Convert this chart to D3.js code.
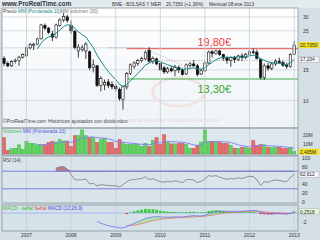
<!DOCTYPE html>
<html><head><meta charset="utf-8">
<script src="https://cdn.jsdelivr.net/npm/d3@7"></script>
<style>body{margin:0;background:#d4dfe6;}svg{display:block;font-family:"Liberation Sans",Arial,sans-serif;}</style>
</head><body><svg id="c" width="320" height="240"></svg>
<script>
// ---- data ----
const firstMonth = new Date(2006, 6, 1);
const opens  = [17.4,16.3,15.8,16.7,16.9,17.7,18.0,20.0,20.6,21.0, 22.5,26.8,25.9,24.0,23.0,26.8,28.8,30.0,26.9,24.8, 19.2,19.5,19.2,19.0,15.5,15.8,12.2,12.3,12.8,12.4, 12.1,11.6,10.2,12.0,14.3,15.7,16.3,16.9,17.3,19.4, 16.8,17.3,16.3,15.4,14.6,15.2,14.8,15.5,15.0,14.2, 15.9,16.2,15.8,14.2,14.8,16.4,19.0,18.6,19.2,18.3, 17.5,17.0,17.6,17.2,18.0,17.6,18.4,19.0,18.9,17.2, 13.6,15.8,15.3,16.2,16.8,16.5,15.9,15.7,18.4];
const highs  = [17.9,16.8,17.0,17.4,18.0,18.6,20.4,21.3,21.4,22.8, 27.4,27.5,26.3,25.0,27.5,29.5,31.6,30.8,28.6,25.3, 21.0,20.8,21.6,19.3,17.2,16.0,13.8,13.2,13.3,12.9, 12.5,11.9,12.2,14.6,16.3,16.8,17.3,17.8,19.3,20.2, 17.9,17.6,16.6,15.8,15.6,15.8,16.0,15.9,15.3,16.3, 16.6,17.0,16.2,15.2,16.7,19.3,19.4,19.5,19.5,18.5, 18.0,17.8,18.0,18.3,18.6,18.7,19.6,19.8,19.5,17.5, 16.3,16.4,16.6,17.2,17.6,16.9,16.5,18.6,21.9];
const lows   = [15.8,15.5,15.6,16.3,15.8,17.4,17.8,19.6,19.4,20.8, 22.3,25.2,24.0,21.8,22.6,26.3,28.0,27.8,24.0,19.6, 17.6,19.0,17.3,15.0,14.5,12.0,11.3,11.5,11.8,11.6, 11.3,10.0,8.9,11.6,14.0,15.2,15.8,16.5,17.0,16.5, 16.2,15.9,14.8,14.2,14.3,14.5,13.8,14.4,13.9,14.0, 15.5,15.6,13.8,14.0,14.6,16.2,17.6,18.3,18.0,16.9, 16.2,15.6,16.4,16.8,16.8,17.2,18.0,18.4,17.2,13.2, 13.1,14.8,14.9,15.8,16.2,15.6,15.2,15.4,18.2];
const closes = [16.3,15.8,16.7,17.0,17.7,18.3,20.0,20.9,21.0,22.5, 27.0,25.9,24.5,23.0,27.0,28.8,30.2,28.6,25.0,20.1, 20.2,20.0,21.0,15.4,16.0,12.2,13.4,12.7,12.2,12.0, 11.7,10.3,12.0,14.3,16.0,16.4,16.9,17.4,18.9,16.8, 17.4,16.2,15.0,14.6,15.2,14.8,15.5,15.0,14.1,16.0, 16.2,15.8,14.1,14.8,16.4,18.9,18.6,19.2,18.3,17.5, 17.0,17.6,17.2,18.0,17.6,18.4,19.0,18.9,17.4,13.6, 15.8,15.3,16.2,16.8,16.5,15.9,15.7,18.3,20.735];
const volumes = [17,4,5.5,6,9.5,5,13,11,11,9.5, 10,9.5,12,13,12.5,15,13.5,13.5,8,19, 19,25,19,17,17,12,15,16,12,12, 6,15,11,10,10,10,10,8,11,8, 14,17,10,20,12,10.5,10.5,11,11,10, 6,6,9,12.5,25,13,13,12,12,11, 11,9,6,5.5,7,6.5,6,14,9,10, 9.5,7,6.5,7,7,6,5.5,7,2.405];
const resistance = 19.80, support = 13.30;
const priceTicks = [30,25,15,10];
const volTicks = [10,20];
const rsiTicks = [100,80,40,20,0];
const macdTicks = [-2];
const yearTicks = [2007,2008,2009,2010,2011,2012,2013];
const trendPts = [[28,20.0],[38,20.0]];
const trendPts2 = [[39,19.3],[48,15.9]];
const trendPts3 = [[41,16.9],[78,17.0]];

// ---- indicators ----
function wma(a,n){return a.map((v,i)=>i<n-1?null:d3.sum(d3.range(n),k=>a[i-k]*(n-k))/(n*(n+1)/2));}
function rsiCalc(c,n){const o=Array(c.length).fill(null);let g=0,l=0;for(let i=1;i<=n;i++){const d=c[i]-c[i-1];if(d>0)g+=d;else l-=d;}g/=n;l/=n;o[n]=100-100/(1+g/l);for(let i=n+1;i<c.length;i++){const d=c[i]-c[i-1];g=(g*(n-1)+Math.max(d,0))/n;l=(l*(n-1)+Math.max(-d,0))/n;o[i]=100-100/(1+g/l);}return o;}
function ema(a,n){const o=Array(a.length).fill(null);let s=a.findIndex(v=>v!=null);if(s<0)return o;const st=s+n-1;if(st>=a.length)return o;o[st]=d3.mean(a.slice(s,st+1));const k=2/(n+1);for(let i=st+1;i<a.length;i++)o[i]=a[i]*k+o[i-1]*(1-k);return o;}
const ma = wma(closes,10);
const vma = wma(volumes,10);
const rsi = rsiCalc(closes,14);
const e12=ema(closes,12), e26=ema(closes,26);
const macd = closes.map((c,i)=>e26[i]==null?null:e12[i]-e26[i]);
const sig = ema(macd,9);
const hist = macd.map((m,i)=>sig[i]==null?null:m-sig[i]);

const dates = d3.range(closes.length).map(i=>d3.timeMonth.offset(firstMonth,i));
const fmt = v=>v.toFixed(3).replace('.',',');

// ---- layout ----
const svg = d3.select('#c');
const L=2,R=298;
const P={main:[8,128],vol:[128,155],rsi:[156,203],macd:[205,231]};
const x = d3.scaleTime().domain([dates[0],dates[dates.length-1]]).range([4,294.2]);
const y = d3.scaleLog().domain([7.0,33.7]).range([128,8]);
const yv = d3.scaleLinear().domain([0,27]).range([154,128]);
const yr = d3.scaleLinear().domain([0,100]).range([202,158]);
const mMin = d3.min(macd);
const ym = d3.scaleLinear().domain([mMin,0]).range([228,213]);
const yearX = d => x(new Date(d,0,1));

// backgrounds
svg.append('rect').attr('x',0).attr('y',0).attr('width',320).attr('height',240).attr('fill','#d4dfe6');
svg.append('rect').attr('x',0).attr('y',0).attr('width',320).attr('height',8).attr('fill','#e4ebef');
const grad = svg.append('defs').append('linearGradient').attr('id','mg').attr('x1',0).attr('x2',0).attr('y1',0).attr('y2',1);
grad.append('stop').attr('offset','0').attr('stop-color','#ffffff');
grad.append('stop').attr('offset','1').attr('stop-color','#eef3f6');
svg.append('rect').attr('x',L).attr('y',P.main[0]).attr('width',R-L).attr('height',P.main[1]-P.main[0]).attr('fill','url(#mg)');
svg.append('rect').attr('x',L).attr('y',P.vol[0]).attr('width',R-L).attr('height',P.vol[1]-P.vol[0]).attr('fill','#dce8ee');
svg.append('rect').attr('x',L).attr('y',P.rsi[0]).attr('width',R-L).attr('height',P.rsi[1]-P.rsi[0]).attr('fill','#d9e5eb');
svg.append('rect').attr('x',L).attr('y',P.macd[0]).attr('width',R-L).attr('height',P.macd[1]-P.macd[0]).attr('fill','#d6e2e9');
const defs = svg.select('defs');
Object.entries(P).forEach(([k,v])=>{defs.append('clipPath').attr('id','cp'+k).append('rect').attr('x',L).attr('y',v[0]).attr('width',R-L).attr('height',v[1]-v[0]);});

// grids
const gMain = svg.append('g').attr('clip-path','url(#cpmain)');
gMain.selectAll('line.h').data([30,25,20,15,10]).join('line').attr('x1',L).attr('x2',R).attr('y1',d=>y(d)).attr('y2',d=>y(d)).attr('stroke','#cfd7de').attr('stroke-width',0.8);
Object.values(P).forEach(v=>{
  svg.append('g').selectAll('line').data(yearTicks).join('line').attr('x1',yearX).attr('x2',yearX).attr('y1',v[0]).attr('y2',v[1]).attr('stroke','#c3ced7').attr('stroke-width',0.8);
});

// watermark
gMain.append('ellipse').attr('cx',x(dates[47])).attr('cy',y(11.2)).attr('rx',26).attr('ry',14).attr('fill','none').attr('stroke','#f1e4e4').attr('stroke-width',3);
gMain.append('text').attr('x',x(dates[33])).attr('y',y(7.55)).attr('font-size',6).attr('fill','#ead2d2').attr('letter-spacing',1).text('www.secretosdebolsa.com');
gMain.append('text').attr('x',L+1).attr('y',y(7.45)).attr('font-size',5).attr('fill','#444').text('©ProRealTime.com Históricos ajustados con dividendos');

// trend lines
const tl = d3.line().x(d=>x(dates[d[0]])).y(d=>y(d[1]));
[trendPts,trendPts2,trendPts3].forEach(t=>gMain.append('path').attr('d',tl(t)).attr('fill','none').attr('stroke','#888').attr('stroke-width',0.7).attr('stroke-dasharray','1,1.5'));
gMain.append('line').attr('x1',x(dates[33])).attr('x2',R).attr('y1',y(resistance)).attr('y2',y(resistance)).attr('stroke','#ec6f6f').attr('stroke-width',1.2);
gMain.append('line').attr('x1',x(dates[33])).attr('x2',R).attr('y1',y(support)).attr('y2',y(support)).attr('stroke','#3eaa3e').attr('stroke-width',1);
gMain.append('text').attr('x',x(dates[52])).attr('y',y(resistance)-2.5).attr('font-size',11).attr('fill','#f03c3c').text(resistance.toFixed(2).replace('.',',')+'€');
gMain.append('text').attr('x',x(dates[52])).attr('y',y(support)+14.5).attr('font-size',11).attr('fill','#2fa52f').text(support.toFixed(2).replace('.',',')+'€');

// candles
const cw=2.4;
const cg = gMain.append('g');
cg.selectAll('line').data(d3.range(closes.length)).join('line').attr('x1',i=>x(dates[i])).attr('x2',i=>x(dates[i])).attr('y1',i=>y(highs[i])).attr('y2',i=>y(lows[i])).attr('stroke','#111').attr('stroke-width',0.8);
cg.selectAll('rect').data(d3.range(closes.length)).join('rect').attr('x',i=>x(dates[i])-cw/2).attr('width',cw)
  .attr('y',i=>y(Math.max(opens[i],closes[i]))).attr('height',i=>Math.max(0.8,Math.abs(y(opens[i])-y(closes[i]))))
  .attr('fill',i=>closes[i]>=opens[i]?'#fff':'#111').attr('stroke','#111').attr('stroke-width',0.6);
// MA
const maLine = d3.line().defined(d=>d!=null).x((d,i)=>x(dates[i])).y(d=>y(d));
gMain.append('path').attr('d',maLine(ma)).attr('fill','none').attr('stroke','#13878a').attr('stroke-width',1);

// volume
const gv = svg.append('g').attr('clip-path','url(#cpvol)');
gv.selectAll('rect').data(d3.range(volumes.length)).join('rect').attr('x',i=>x(dates[i])-1.6).attr('width',3.2)
  .attr('y',i=>yv(volumes[i])).attr('height',i=>yv(0)-yv(volumes[i]))
  .attr('fill',i=>closes[i]>=opens[i]?'#5fd65f':'#e86a6a').attr('stroke',i=>closes[i]>=opens[i]?'#3aa83a':'#c04848').attr('stroke-width',0.4);
gv.append('path').attr('d',d3.line().defined(d=>d!=null).x((d,i)=>x(dates[i])).y(d=>yv(d))(vma)).attr('fill','none').attr('stroke','#8585f0').attr('stroke-width',1);

// RSI
const gr = svg.append('g').attr('clip-path','url(#cprsi)');
gr.append('path').attr('d',d3.area().defined(d=>d!=null).x((d,i)=>x(dates[i])).y0(yr(70)).y1(d=>yr(Math.max(d,70)))(rsi)).attr('fill','#b8808a').attr('stroke','#8a5560').attr('stroke-width',0.4);
[70,30].forEach(v=>gr.append('line').attr('x1',L).attr('x2',R).attr('y1',yr(v)).attr('y2',yr(v)).attr('stroke','#7474e0').attr('stroke-width',0.9));
gr.append('path').attr('d',d3.line().defined(d=>d!=null).x((d,i)=>x(dates[i])).y(d=>yr(d))(rsi)).attr('fill','none').attr('stroke','#7a7a7a').attr('stroke-width',0.8);

// MACD
const gm = svg.append('g').attr('clip-path','url(#cpmacd)');
gm.append('line').attr('x1',L).attr('x2',R).attr('y1',ym(0)).attr('y2',ym(0)).attr('stroke','#b4c4f0').attr('stroke-width',1.5);
const segs = d3.range(1,closes.length).filter(i=>sig[i-1]!=null);
gm.selectAll('path.f').data(segs).join('path').attr('d',i=>`M${x(dates[i-1])},${ym(macd[i-1])}L${x(dates[i])},${ym(macd[i])}L${x(dates[i])},${ym(sig[i])}L${x(dates[i-1])},${ym(sig[i-1])}Z`)
  .attr('fill',i=>hist[i]>=0?'#a8e6a0':'#e6a0c0').attr('opacity',0.9);
gm.selectAll('rect').data(d3.range(closes.length).filter(i=>hist[i]!=null)).join('rect').attr('x',i=>x(dates[i])-1.4).attr('width',2.8)
  .attr('y',i=>Math.min(ym(hist[i]),ym(0))).attr('height',i=>Math.abs(ym(hist[i])-ym(0)))
  .attr('fill',i=>hist[i]>=0?'#3cc83c':'#e03c3c');
gm.append('path').attr('d',d3.line().defined(d=>d!=null).x((d,i)=>x(dates[i])).y(d=>ym(d))(sig)).attr('fill','none').attr('stroke','#e87878').attr('stroke-width',0.8);
gm.append('path').attr('d',d3.line().defined(d=>d!=null).x((d,i)=>x(dates[i])).y(d=>ym(d))(macd)).attr('fill','none').attr('stroke','#7070f0').attr('stroke-width',0.8);

// panel borders
Object.values(P).forEach(v=>svg.append('rect').attr('x',L).attr('y',v[0]).attr('width',R-L).attr('height',v[1]-v[0]).attr('fill','none').attr('stroke','#8a949c').attr('stroke-width',0.8));

// texts
const T=(xx,yy,s,o={})=>{const t=svg.append('text').attr('x',xx).attr('y',yy).attr('font-size',o.fs||5).attr('fill',o.c||'#333').text(s);if(o.w)t.attr('font-weight',o.w);if(o.a)t.attr('text-anchor',o.a);return t;};
T(2,6,'www.ProRealTime.com',{fs:6.3,w:'bold',c:'#2c3440'});
T(112,6,'BME - BOLSAS Y MER',{fs:4.7,c:'#333'});
T(166,6,closes[closes.length-1].toFixed(4).replace('.',',')+' (+1,39%)',{fs:4.7});
T(209,6,'Mensual  08 ene 2013',{fs:4.7});
const lg = svg.append('text').attr('x',3).attr('y',13).attr('font-size',4.8);
lg.append('tspan').attr('fill','#444').text('Precio ');
lg.append('tspan').attr('fill','#13878a').text('MM (Ponderada 10)');
lg.append('tspan').attr('fill','#777').text('MM volumen (30)');
const vl = svg.append('text').attr('x',3).attr('y',133).attr('font-size',4.8);
vl.append('tspan').attr('fill','#49b849').text('Volumen ');
vl.append('tspan').attr('fill','#5555dd').text('MM (Ponderada 10)');
T(3,161.5,'RSI (14)',{fs:4.8,c:'#444'});
const ml = svg.append('text').attr('x',3).attr('y',210).attr('font-size',4.8);
ml.append('tspan').attr('fill','#33bb33').text('MACD - señal ');
ml.append('tspan').attr('fill','#e04040').text('Señal ');
ml.append('tspan').attr('fill','#4444ee').text('MACD (12,26,9)');

// right axes
priceTicks.forEach(v=>T(303,y(v)+2,String(v)));
const box=(yy,s,bg,st)=>{svg.append('rect').attr('x',299).attr('y',yy-3).attr('width',20).attr('height',6).attr('fill',bg).attr('stroke',st||'none').attr('stroke-width',0.4);T(300,yy+2,s,{fs:4.8,c:'#222'});};
box(y(ma[ma.length-1]),fmt(ma[ma.length-1]),'#f4f6f8','#99a');
box(y(closes[closes.length-1]),closes[closes.length-1].toFixed(4).replace('.',','),'#f6e21a');
volTicks.forEach(v=>T(303,yv(v)+2,v+'M'));
box(yv(volumes[volumes.length-1]),volumes[volumes.length-1].toFixed(3).replace('.',',')+'M','#f6e21a');
rsiTicks.forEach(v=>T(302,yr(v)+2,String(v)));
box(yr(rsi[rsi.length-1]),fmt(rsi[rsi.length-1]),'#f4f6f8','#99a');
macdTicks.forEach(v=>T(302,ym(v)+2,String(v)));
box(ym(macd[macd.length-1]),macd[macd.length-1].toFixed(4).replace('.',','),'#e8f8e0','#9a9');
// x axis
yearTicks.forEach(v=>T(yearX(v),237,String(v),{a:'middle',fs:5}));
</script></body></html>
